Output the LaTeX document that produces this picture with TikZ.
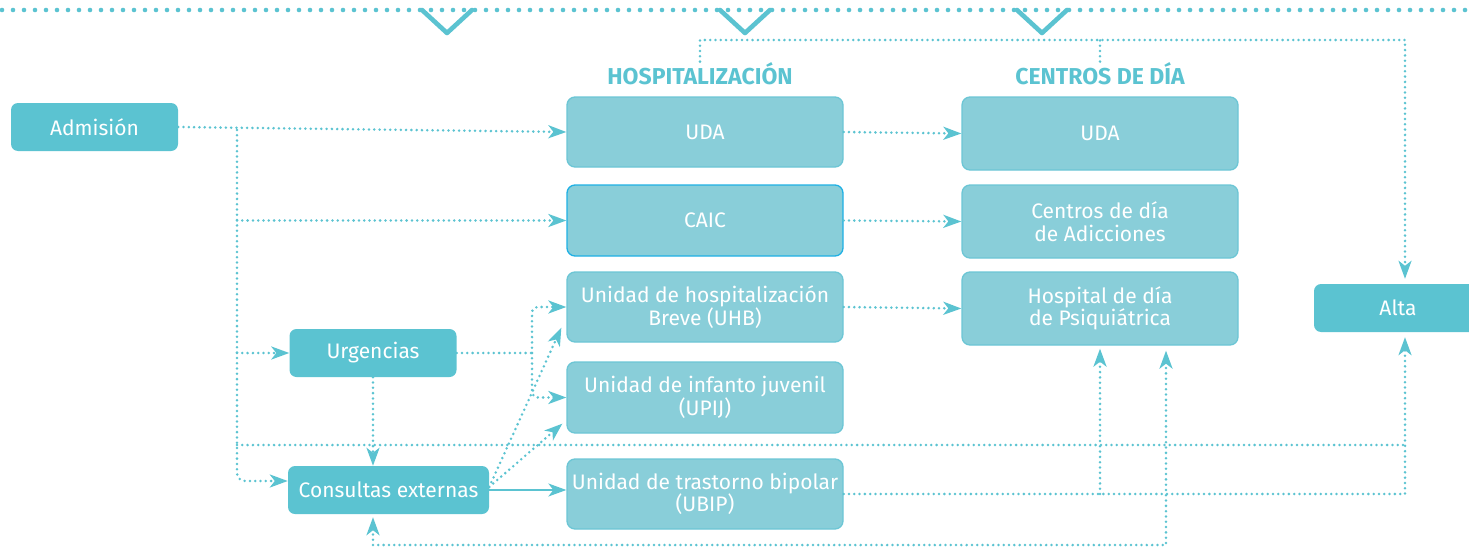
\documentclass[tikz,border=0pt]{standalone}
\usepackage{fontspec}
\setmainfont{Fira Sans}
\usetikzlibrary{arrows.meta}
\definecolor{tealA}{HTML}{5BC3D1}
\definecolor{tealB}{HTML}{89CED9}
\definecolor{tealC}{HTML}{6CC6D5}
\definecolor{caicblue}{HTML}{1FB0E4}
\tikzset{
  dark/.style={fill=tealA, rounded corners=7pt, text=white, minimum height=48pt, inner sep=0pt, font=\fontsize{21}{23}\selectfont},
  light/.style={fill=tealB, draw=tealC, line width=1.3pt, rounded corners=8pt, text=white, minimum width=276pt, align=center, inner sep=0pt, font=\fontsize{21}{22.5}\selectfont},
  head/.style={text=tealA, inner sep=1pt, font=\fontsize{23}{25}\selectfont\bfseries},
  dots/.style={draw=tealA, line width=2.8pt, line cap=round, dash pattern=on 0pt off 5.3pt},
}
\begin{document}
\begin{tikzpicture}[x=1pt, y=-1pt, line join=round, >={Stealth[length=18pt,width=13pt,inset=5pt]}]
 \useasboundingbox (0,0) rectangle (1469,546);
 % top band
 \draw[tealA, line width=4.6pt, line cap=round, dash pattern=on 0pt off 11pt] (2,10) -- (1469,10);
 \foreach \c in {447,745,1042} \draw[tealA, line width=4.6pt, line cap=round] (\c-25,10) -- (\c,33) -- (\c+25,10);
 % entry points
 \node[dark, minimum width=167pt] (adm) at (94.5,127) {Admisión};
 \node[dark, minimum width=167pt] (urg) at (373,353) {Urgencias};
 \node[dark, minimum width=201pt] (cons) at (388.5,490) {Consultas externas};
 \node[dark, minimum width=168pt] (alta) at (1398,308) {Alta};
 % hospitalizacion
 \node[head] (hosp) at (700,74) {HOSPITALIZACIÓN};
 \node[light, minimum height=70pt] (uda1) at (705,132) {UDA};
 \node[light, minimum height=71pt, draw=caicblue] (caic) at (705,220.5) {CAIC};
 \node[light, minimum height=70pt] (uhb) at (705,307) {Unidad de hospitalización\\Breve (UHB)};
 \node[light, minimum height=71pt] (upij) at (705,397.5) {Unidad de infanto juvenil\\(UPIJ)};
 \node[light, minimum height=70pt] (ubip) at (705,494) {Unidad de trastorno bipolar\\(UBIP)};
 % centros de dia
 \node[head] (cdia) at (1100,74) {CENTROS DE DÍA};
 \node[light, minimum height=73pt] (uda2) at (1100,133.5) {UDA};
 \node[light, minimum height=73pt] (adic) at (1100,221.5) {Centros de día\\de Adicciones};
 \node[light, minimum height=73pt] (hdia) at (1100,308.5) {Hospital de día\\de Psiquiátrica};
 % connectors
 \coordinate (tr) at (237,130);
 \coordinate (sp) at (532,353);
 \coordinate (xr) at (1405,40);
 \coordinate (mid) at (237,445);
 \coordinate (bot) at (0,545);
 \draw[dots,->] (adm.east) -- (uda1.west);
 \draw[dots,->,rounded corners=8pt] (tr) |- ([yshift=9pt]cons.west);
 \draw[dots,->] (tr |- caic.west) -- (caic.west);
 \draw[dots,->] (tr |- urg.west) -- (urg.west);
 \draw[dots] (mid) -- (mid -| xr);
 \draw[dots] (urg.east) -- (sp);
 \draw[dots,->,rounded corners=6pt] (sp) |- (uhb.west);
 \draw[dots,->,rounded corners=6pt] (sp) |- (upij.west);
 \draw[dots,->] (urg.south) -- (urg.south |- cons.north);
 \draw[tealA, line width=1.6pt, ->] (cons.east) -- (cons.east -| ubip.west);
 \draw[dots,->] ([yshift=3pt]cons.east) -- ([xshift=-5pt,yshift=15pt]uhb.south west);
 \draw[dots,->] ([yshift=3pt]cons.east) -- ([xshift=-4pt,yshift=10pt]upij.south west);
 \foreach \a/\b in {uda1/uda2,caic/adic,uhb/hdia} \draw[dots,->] (\a.east) -- (\b.west);
 \draw[dots,->,shorten >=5pt] (hosp.north) |- (xr) -- (xr |- alta.north);
 \draw[dots] (cdia.north) -- (cdia.north |- xr);
 \draw[dots,->,shorten >=5pt] (ubip.east) -| (xr |- alta.south);
 \draw[dots,->,shorten >=3pt] (ubip.east -| hdia.south) -- (hdia.south);
 \draw[dots,<->,shorten <=3pt,shorten >=5pt] (urg.south |- cons.south) -- (urg.south |- bot) -| ([xshift=66pt]hdia.south);
\end{tikzpicture}
\end{document}
